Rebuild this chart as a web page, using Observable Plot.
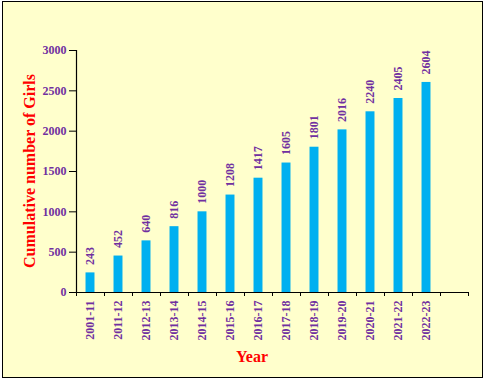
<!DOCTYPE html>
<html>
<head>
<meta charset="utf-8">
<script src="https://cdn.jsdelivr.net/npm/d3@7"></script>
<script src="https://cdn.jsdelivr.net/npm/@observablehq/plot@0.6"></script>
<style>
  html, body { margin: 0; padding: 0; background: #ffffff; }
  #wrap { position: relative; width: 486px; height: 383px; overflow: hidden; }
  #bg { position: absolute; left: 2px; top: 1px; width: 479px; height: 375px; background: #FFFFCC; border: 1.5px solid #000; }
  #chart { position: absolute; left: 0; top: 0; }
</style>
</head>
<body>
<div id="wrap"><div id="bg"></div><div id="chart"></div></div>
<script>
const years = ["2001-11","2011-12","2012-13","2013-14","2014-15","2015-16","2016-17","2017-18","2018-19","2019-20","2020-21","2021-22","2022-23"];
const girls = [243, 452, 640, 816, 1000, 1208, 1417, 1605, 1801, 2016, 2240, 2405, 2604];
const yTicks = [0, 500, 1000, 1500, 2000, 2500, 3000];
const slotCount = 14; // 13 years plus one empty slot at the right, as in the reference

const purple = "#7030A0";
const barColor = "#00B0F0";

const data = years.map((y, i) => ({year: y, value: girls[i], i}));

const plot = Plot.plot({
  width: 486,
  height: 383,
  marginLeft: 76,
  marginRight: 18,
  marginTop: 50,
  marginBottom: 91,
  style: {background: "transparent", fontFamily: "'Liberation Serif', 'Times New Roman', serif", fontSize: "12px", fontWeight: "bold", overflow: "visible"},
  x: {type: "linear", domain: [0, slotCount], axis: null},
  y: {domain: [0, 3000], axis: null},
  marks: [
    Plot.rectY(data, {x1: d => d.i + 0.34, x2: d => d.i + 0.66, y1: 0, y2: "value", fill: barColor}),
    Plot.axisY({ticks: yTicks, tickSize: 7, tickPadding: 3, stroke: "black", fill: purple, fontWeight: "bold", fontSize: 12, label: null, tickFormat: d => String(d)}),
    Plot.axisX({ticks: d3.range(slotCount + 1), tickSize: 4, stroke: "black", tickFormat: () => "", label: null}),
    Plot.ruleY([0], {stroke: "black", strokeWidth: 1.2}),
    Plot.ruleX([0], {stroke: "black", strokeWidth: 1.2}),
    Plot.text(data, {x: d => d.i + 0.5, y: 0, text: "year", rotate: -90, textAnchor: "end", lineAnchor: "middle", dy: 8, fill: purple, fontWeight: "bold", fontSize: 12}),
    Plot.text(data, {x: d => d.i + 0.5, y: "value", text: d => String(d.value), rotate: -90, textAnchor: "start", lineAnchor: "middle", dy: -8, fill: purple, fontWeight: "bold", fontSize: 12})
  ]
});

const svg = d3.select(plot);
svg.append("text")
  .attr("transform", "translate(29,171) rotate(-90)")
  .attr("text-anchor", "middle")
  .attr("dominant-baseline", "central")
  .attr("fill", "#FF0000")
  .attr("font-size", 16)
  .attr("font-weight", "bold")
  .text("Cumulative number of Girls");
svg.append("text")
  .attr("x", 252)
  .attr("y", 356)
  .attr("text-anchor", "middle")
  .attr("dominant-baseline", "central")
  .attr("fill", "#FF0000")
  .attr("font-size", 16)
  .attr("font-weight", "bold")
  .text("Year");

document.getElementById("chart").appendChild(plot);
</script>
</body>
</html>
